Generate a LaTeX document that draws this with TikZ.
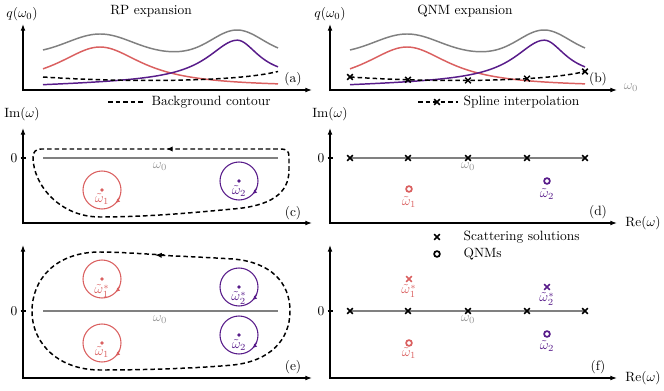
\documentclass[tikz,border=0pt]{standalone}
\usetikzlibrary{arrows.meta,shapes.misc}
\definecolor{rpred}{RGB}{218,96,96}
\definecolor{rppurple}{RGB}{88,28,138}
\definecolor{rpgray}{RGB}{128,128,128}
\definecolor{lblgray}{RGB}{150,150,150}
\begin{document}
\begin{tikzpicture}[x=0.744pt,y=0.744pt,
  axis/.style={line width=0.8pt,-{Latex[length=5pt,width=3.6pt]}},
  curve/.style={line width=1.1pt},
  bgdash/.style={line width=1.1pt,dash pattern=on 3.4pt off 2.2pt},
  xmk/.style={cross out,draw=#1,line width=1.1pt,minimum size=3.1pt,inner sep=0pt},
  xmk/.default=black,
  omk/.style={circle,draw=#1,line width=1.25pt,minimum size=4.3pt,inner sep=0pt},
  omk/.default=black,
  pole/.style={circle,fill=#1,minimum size=2.8pt,inner sep=0pt},
  polering/.style={draw=#1,line width=0.8pt},
  ringarrow/.style={draw=#1,line width=0.8pt,-{Latex[length=3.2pt,width=3.2pt]}},
  lbl/.style={inner sep=1pt},
  w0lbl/.style={inner sep=1pt,text=lblgray},
  realline/.style={draw=rpgray,line width=1.1pt},
  tick/.style={line width=0.8pt}]
\useasboundingbox (0,0) rectangle (664,390);

% ---------------- top panels (a) and (b): curves ----------------
\foreach \s in {0,307}{
\begin{scope}[shift={(\s,0)}]
  \draw[curve,rpgray] plot[domain=43:278,samples=100,smooth]
    (\x,{336+20*exp(0-((\x-100)/45)^2)+24*exp(0-((\x-237)/35)^2)});
  \draw[curve,rpred] plot[domain=43:278,samples=100,smooth]
    (\x,{303+40/(1+((\x-100)/52)^2)});
  \draw[curve,rppurple] plot[domain=43:278,samples=100,smooth]
    (\x,{304+0.03*(\x-43)+40/(1+((\x-237)/((\x<237)?36:27))^2)});
  \draw[bgdash] plot[domain=43:278,samples=80,smooth]
    (\x,{309.5+3.5*((\x-150)/107)^2+4*exp((\x-278)/25)});
\end{scope}}

% spline markers in (b)
\foreach \m in {43,101,161,220,278}{
  \node[xmk] (sp\m) at ({\m+307},{309.5+3.5*((\m-150)/107)^2+4*exp((\m-278)/25)}) {};
}

% axes (a)
\draw[axis] (23,299) -- (23,366);
\draw[axis] (22,300) -- (312,300);
\node[lbl] (qa) at (22,376) {$q(\omega_0)$};
\node[lbl] (ta) at (151,379) {RP expansion};
\node[lbl] (la) at (293,311) {(a)};
\coordinate (bgA) at (108,288);
\coordinate (bgB) at (144,288);
\draw[bgdash] (bgA) -- (bgB);
\node[lbl,anchor=west] (bgtext) at (150,288) {Background contour};

% axes (b)
\draw[axis] (330,299) -- (330,366);
\draw[axis] (329,300) -- (617,300);
\node[lbl] (qb) at (330,376) {$q(\omega_0)$};
\node[lbl] (tb) at (465,379) {QNM expansion};
\node[lbl] (lb) at (598,311) {(b)};
\node[w0lbl] (wb) at (631,302) {$\omega_0$};
\coordinate (spA) at (418,288);
\coordinate (spB) at (458,288);
\draw[bgdash] (spA) -- (spB);
\node[xmk] (splegend) at (437,288) {};
\node[lbl,anchor=west] (sptext) at (462,288) {Spline interpolation};

% ---------------- panel (c) ----------------
\draw[axis] (23,166) -- (23,262);
\draw[axis] (22,167) -- (312,167);
\draw[tick] (20.5,232) -- (25.5,232);
\node[lbl,anchor=east] (zc) at (19,232) {$0$};
\node[lbl] (imc) at (22,276) {$\mathrm{Im}(\omega)$};
\draw[realline] (43,232) -- (278,232);
\node[w0lbl] (wc) at (160,223) {$\omega_0$};
\node[lbl] (lc) at (293,177) {(c)};
\coordinate (c1) at (102,200);
\coordinate (c2) at (239,209);
\draw[polering=rpred] (c1) circle (19);
\draw[polering=rppurple] (c2) circle (19);
\draw[ringarrow=rpred] (c1) ++(-22:19) arc[start angle=-22,end angle=-44,radius=19];
\draw[ringarrow=rppurple] (c2) ++(-22:19) arc[start angle=-22,end angle=-44,radius=19];
\node[pole=rpred] (p1c) at (c1) {};
\node[pole=rppurple] (p2c) at (c2) {};
\node[lbl,text=rpred] (w1c) at (102,191) {$\tilde{\omega}_1$};
\node[lbl,text=rppurple] (w2c) at (239,199) {$\tilde{\omega}_2$};
\draw[bgdash,-{Latex[length=5pt,width=4pt]}] (172,241) -- (41,241)
  .. controls (36,241) and (33,238) .. (33,233)
  .. controls (33,205) and (60,173) .. (100,173)
  .. controls (150,173) and (200,178) .. (233,181)
  .. controls (270,184) and (289,196) .. (289,220)
  -- (289,234) .. controls (289,239) and (286,241) .. (281,241)
  -- (166,241);

% ---------------- panel (d) ----------------
\draw[axis] (330,166) -- (330,262);
\draw[axis] (329,167) -- (617,167);
\draw[tick] (327.5,232) -- (332.5,232);
\node[lbl,anchor=east] (zd) at (326,232) {$0$};
\node[lbl] (imd) at (330,276) {$\mathrm{Im}(\omega)$};
\node[lbl] (red) at (643,167) {$\mathrm{Re}(\omega)$};
\draw[realline] (350,232) -- (585,232);
\foreach \m in {350,408,468,527,585}{ \node[xmk] (sd\m) at (\m,232) {}; }
\node[w0lbl] (wd) at (468,223) {$\omega_0$};
\node[omk=rpred] (q1d) at (409,201) {};
\node[omk=rppurple] (q2d) at (547,209) {};
\node[lbl,text=rpred] (w1d) at (409,188) {$\tilde{\omega}_1$};
\node[lbl,text=rppurple] (w2d) at (547,196) {$\tilde{\omega}_2$};
\node[lbl] (ld) at (598,178) {(d)};
\node[xmk] (sclegend) at (437,153) {};
\node[lbl,anchor=west] (sctext) at (462,153) {Scattering solutions};
\node[omk] (qnmlegend) at (437,136) {};
\node[lbl,anchor=west] (qnmtext) at (462,136) {QNMs};

% ---------------- panel (e) ----------------
\draw[axis] (23,11) -- (23,145);
\draw[axis] (22,12) -- (312,12);
\draw[tick] (20.5,79) -- (25.5,79);
\node[lbl,anchor=east] (ze) at (19,79) {$0$};
\draw[realline] (43,79) -- (278,79);
\node[w0lbl] (we) at (160,70) {$\omega_0$};
\node[lbl] (le) at (293,23) {(e)};
\coordinate (e1u) at (102,111);
\coordinate (e1l) at (102,47);
\coordinate (e2u) at (239,103);
\coordinate (e2l) at (239,55);
\foreach \c/\col in {e1u/rpred,e1l/rpred,e2u/rppurple,e2l/rppurple}{
  \draw[polering=\col] (\c) circle (19);
  \draw[ringarrow=\col] (\c) ++(-22:19) arc[start angle=-22,end angle=-44,radius=19];
  \node[pole=\col] (p\c) at (\c) {};
}
\node[lbl,text=rpred] (w1se) at (102,99) {$\tilde{\omega}_1^*$};
\node[lbl,text=rpred] (w1e) at (102,38) {$\tilde{\omega}_1$};
\node[lbl,text=rppurple] (w2se) at (239,92) {$\tilde{\omega}_2^*$};
\node[lbl,text=rppurple] (w2e) at (239,45) {$\tilde{\omega}_2$};
\draw[bgdash,-{Latex[length=5pt,width=4pt]}] (164,135)
  .. controls (130,137) and (115,138) .. (100,138)
  .. controls (55,138) and (32,110) .. (32,79)
  .. controls (32,45) and (60,20) .. (100,20)
  .. controls (150,20) and (200,22) .. (233,25)
  .. controls (270,29) and (290,50) .. (290,79)
  .. controls (290,108) and (270,128) .. (233,131)
  .. controls (200,133) and (175,134) .. (155,135);

% ---------------- panel (f) ----------------
\draw[axis] (330,11) -- (330,145);
\draw[axis] (329,12) -- (617,12);
\draw[tick] (327.5,79) -- (332.5,79);
\node[lbl,anchor=east] (zf) at (326,79) {$0$};
\node[lbl] (ref) at (643,12) {$\mathrm{Re}(\omega)$};
\draw[realline] (350,79) -- (585,79);
\foreach \m in {350,408,468,527,585}{ \node[xmk] (sf\m) at (\m,79) {}; }
\node[w0lbl] (wf) at (468,70) {$\omega_0$};
\node[xmk=rpred] (x1f) at (409,111) {};
\node[xmk=rppurple] (x2f) at (547,103) {};
\node[omk=rpred] (q1f) at (409,47) {};
\node[omk=rppurple] (q2f) at (547,56) {};
\node[lbl,text=rpred] (w1sf) at (409,99) {$\tilde{\omega}_1^*$};
\node[lbl,text=rpred] (w1f) at (409,37) {$\tilde{\omega}_1$};
\node[lbl,text=rppurple] (w2sf) at (547,91) {$\tilde{\omega}_2^*$};
\node[lbl,text=rppurple] (w2f) at (547,44) {$\tilde{\omega}_2$};
\node[lbl] (lf) at (598,23) {(f)};
\end{tikzpicture}
\end{document}
